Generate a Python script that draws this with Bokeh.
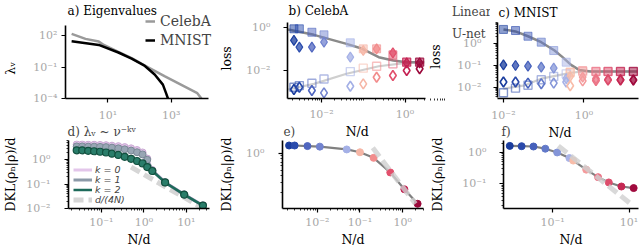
from bokeh.plotting import figure
from bokeh.models import (FixedTicker, Legend, LegendItem, Label, Range1d,
                          CustomJSTickFormatter)
from bokeh.layouts import row, column
from bokeh.embed import file_html
from bokeh.resources import INLINE

SERIF = "DejaVu Serif"
SANS = "DejaVu Sans"
TICK_GRAY = "#a8a8a8"
NB = "\u00a0"

# ---------------- data (log10 values) ----------------
# a) eigenvalue spectra
celeba_rank = [-0.15, 0.29, 0.71, 0.87, 1.33, 1.75, 2.17, 2.79, 3.31, 3.83, 3.96]
celeba_eig = [2.16, 1.68, 1.42, 1.10, 0.43, -0.15, -0.86, -1.87, -2.68, -3.49, -4.0]
mnist_rank = [-0.15, 0.71, 1.33, 1.75, 2.17, 2.48, 2.74, 2.84, 2.90]
mnist_eig = [1.45, 1.10, 0.38, -0.20, -0.90, -1.71, -2.68, -3.49, -4.0]

# b) / e) CelebA, against N/d
celeba_nd = [-2.66, -2.53, -2.23, -1.94, -1.31, -1.00, -0.68, -0.29, 0.04, 0.35]
celeba_lin_test = [-0.06, -0.06, -0.22, -0.34, -0.71, -0.99, -0.99, -1.27, -1.61, -1.61]
celeba_lin_train = [-2.78, -2.70, -2.59, -2.39, -2.05, -1.89, -1.80, -1.69, -1.61, -1.61]
celeba_unet_test = [-0.60, -0.91, -0.91, -0.68, -1.38, -1.07, -0.99, -1.18, -1.64, -1.64]
celeba_unet_train = [-2.88, -2.78, -2.93, -3.04, -2.73, -2.62, -2.31, -2.23, -2.00, -1.92]
celeba_theory_x = [-2.8, -2.18, -1.40, -1.02, -0.63, -0.28, 0.03, 0.46]
celeba_theory_test = [-0.09, -0.34, -0.76, -0.99, -1.38, -1.53, -1.61, -1.61]
celeba_theory_tx = [-2.8, -2.18, -1.40, -0.63, 0.03, 0.46]
celeba_theory_train = [-2.88, -2.62, -2.15, -1.80, -1.64, -1.61]
celeba_dkl = [0.14, 0.14, 0.13, 0.12, 0.07, 0.02, -0.08, -0.34, -0.64, -0.90]
celeba_ref_x = [-0.70, 0.30]
celeba_ref_y = [0.10, -0.90]

# c) / f) MNIST, against N/d
mnist_nd = [-2.0, -1.70, -1.39, -1.06, -0.75, -0.44, -0.34, -0.03, 0.30, 0.60, 0.91, 1.23]
mnist_lin_test = [0.64, 0.59, 0.33, 0.06, -0.32, -0.85, -1.30, -1.23, -1.27, -1.27, -1.27, -1.27]
mnist_lin_train = [-2.24, -2.03, -1.90, -1.65, -1.50, -1.38, -1.32, -1.27, -1.27, -1.27, -1.27, -1.27]
mnist_unet_test = [-0.97, -1.00, -1.03, -1.07, -1.12, -1.60, -1.50, -1.53, -1.60, -1.64, -1.64, -1.66]
mnist_unet_train = [-1.75, -1.75, -1.80, -1.83, -1.80, -1.75, -1.92, -1.70, -1.68, -1.66, -1.66, -1.66]
mnist_theory_x = [-2.0, -1.70, -1.39, -1.06, -0.73, -0.53, -0.32, -0.12, 0.17, 1.33]
mnist_theory_test = [0.64, 0.55, 0.33, 0.06, -0.32, -0.62, -0.97, -1.20, -1.27, -1.27]
mnist_theory_tx = [-2.0, -1.47, -1.06, -0.65, -0.32, 0.0, 1.33]
mnist_theory_train = [-2.05, -1.90, -1.60, -1.45, -1.33, -1.27, -1.27]
mnist_nd_f = [-2.12, -1.81, -1.50, -1.19, -0.88, -0.56, -0.46, -0.12, 0.19, 0.47, 0.80, 1.12]
mnist_dkl = [0.21, 0.20, 0.19, 0.12, 0.0, -0.18, -0.26, -0.55, -0.79, -0.96, -1.09, -1.14]
mnist_ref_x = [-0.85, 1.05]
mnist_ref_y = [0.21, -1.65]

# d) power-law spectra lambda_nu ~ nu^(-k nu)
pl_nd = [-1.58, -1.45, -1.31, -1.17, -1.03, -0.89, -0.75, -0.60, -0.45, -0.30, -0.16, -0.03, 0.08, 0.20, 0.50, 0.95, 1.39]
pl_k0 = [0.63, 0.63, 0.62, 0.62, 0.61, 0.60, 0.58, 0.56, 0.52, 0.47, 0.40, 0.30, 0.05, -0.42, -0.92, -1.42, -1.87]
pl_k1 = [0.55, 0.55, 0.54, 0.54, 0.53, 0.52, 0.50, 0.47, 0.43, 0.38, 0.31, 0.22, 0.00, -0.44, -0.93, -1.43, -1.88]
pl_k2 = [0.39, 0.39, 0.37, 0.35, 0.33, 0.30, 0.25, 0.20, 0.12, 0.04, -0.05, -0.15, -0.30, -0.46, -0.93, -1.43, -1.88]
pl_ref_x = [-0.30, 1.34]
pl_ref_y = [-0.30, -1.94]

celeba_colors = ["#1a3d9e", "#2a4cad", "#5066bf", "#7283cf", "#a4b0e6",
                 "#f6b6a6", "#f28c8c", "#e2506c", "#c42152", "#9c0a3c"]
mnist_colors = ["#1a3d9e", "#2b4aab", "#4560bb", "#6279c9", "#8495d8", "#a9b3e6",
                "#f8bca8", "#f49b9c", "#ec7486", "#dd4d6c", "#c52853", "#a00b3e"]


def L(a):
    return [10.0 ** v for v in a]


def minors(decades):
    return [m * 10.0 ** e for e in decades for m in range(2, 10)]


SUP_FMT = CustomJSTickFormatter(code="""
const e = Math.round(Math.log10(tick));
const sup = {"-": "\u207b", "0": "\u2070", "1": "\u00b9", "2": "\u00b2", "3": "\u00b3",
             "4": "\u2074", "5": "\u2075", "6": "\u2076", "7": "\u2077", "8": "\u2078", "9": "\u2079"};
return "10" + String(e).split("").map(c => sup[c]).join("");
""")


def make_fig(w, h, left, right, top, bottom, xr, yr, title, toff, tstand,
             xstand, ystand, ylab, ylab_stand, xlab=None, xlab_stand=0):
    p = figure(width=w, height=h, x_axis_type="log", y_axis_type="log",
               x_range=Range1d(10 ** xr[0], 10 ** xr[1]),
               y_range=Range1d(10 ** yr[0], 10 ** yr[1]),
               min_border_left=left, min_border_right=right,
               min_border_top=top, min_border_bottom=bottom,
               output_backend="svg", toolbar_location=None, title=title or "")
    p.outline_line_color = None
    p.border_fill_alpha = 0
    p.background_fill_alpha = 0
    p.xgrid.visible = False
    p.ygrid.visible = False
    for ax in (p.xaxis[0], p.yaxis[0]):
        ax.formatter = SUP_FMT
        ax.axis_line_color = "black"
        ax.axis_line_width = 1.6
        ax.major_tick_line_color = "black"
        ax.major_tick_line_width = 1.2
        ax.major_tick_in = 0
        ax.major_tick_out = 4
        ax.minor_tick_line_color = "black"
        ax.minor_tick_line_width = 0.8
        ax.minor_tick_in = 0
        ax.minor_tick_out = 2
        ax.major_label_text_color = TICK_GRAY
        ax.major_label_text_font = SERIF
        ax.major_label_text_font_size = "11px"
        ax.axis_label_text_font = SERIF
        ax.axis_label_text_font_style = "normal"
        ax.axis_label_text_color = "black"
    p.xaxis[0].major_label_standoff = xstand
    p.yaxis[0].major_label_standoff = ystand
    p.yaxis[0].axis_label = ylab
    p.yaxis[0].axis_label_standoff = ylab_stand
    p.yaxis[0].axis_label_text_font_size = "12.5px"
    if xlab:
        p.xaxis[0].axis_label = xlab
        p.xaxis[0].axis_label_standoff = xlab_stand
        p.xaxis[0].axis_label_text_font_size = "12.5px"
    p.title.text_font = SERIF
    p.title.text_font_style = "normal"
    p.title.align = "left"
    p.title.offset = toff
    p.title.standoff = tstand
    # an empty title must not take up room above the frame
    p.title.text_font_size = "12px" if title else "1px"
    return p


def add_legend(p, renderers, label, x, yc, gw, gh, font=SERIF, size="12px",
               style="normal", standoff=4):
    # Legend location = bottom-left corner of the box, relative to the frame
    leg = Legend(items=[LegendItem(label=label, renderers=renderers)],
                 location=(x, yc - gh / 2), padding=0, margin=0, spacing=0,
                 glyph_width=gw, glyph_height=gh, label_height=gh,
                 label_standoff=standoff, border_line_color=None,
                 background_fill_alpha=0, label_text_font=font,
                 label_text_font_size=size, label_text_font_style=style)
    p.add_layout(leg)


def add_text(p, text, x, y, size="12px"):
    p.add_layout(Label(x=x, y=y, x_units="screen", y_units="screen", text=text,
                       text_align="left", text_baseline="middle", text_font=SERIF,
                       text_font_size=size, text_color="black"))


# figures in one row share frame top/bottom, so every top-row frame spans y = 2..98
# (titles and legends are drawn inside the frames, axis lines are bounded), and
# every bottom-row frame spans y = 139..213.
TOP_H = 150
OVERLAP = 29
TB = TOP_H - 98

# ---------------- a) eigenvalues ----------------
pa = make_fig(216, TOP_H, 63, 0, 2, TB, (-0.344, 4.4375), (-4.0, 5.143),
              None, 0, 0, 6, 4, "λᵥ" + NB * 9, 12)
pa.xaxis.bounds = (10 ** -0.344, 10 ** 4.19)
pa.yaxis.bounds = (1e-4, 10 ** 2.95)
pa.xaxis.ticker = FixedTicker(ticks=[10, 1000], minor_ticks=[])
pa.yaxis.ticker = FixedTicker(ticks=[1e-4, 1e-1, 1e2], minor_ticks=[])
ra1 = pa.line(L(celeba_rank), L(celeba_eig), line_color="#9a9a9a", line_width=2.5)
ra2 = pa.line(L(mnist_rank), L(mnist_eig), line_color="black", line_width=2.5)
add_legend(pa, [ra1], "CelebA", 80, 77.3, 10, 18, size="14px", standoff=5)
add_legend(pa, [ra2], "MNIST", 80, 58, 10, 18, size="14px", standoff=5)
add_text(pa, "a) Eigenvalues", 2, 88)

# ---------------- b) CelebA losses ----------------
pb = make_fig(274, TOP_H, 65, 0, 2, TB, (-2.814, 2.047), (-3.30, 1.163),
              None, 0, 0, 5, 13, "loss" + NB * 4, 9,
              xlab="N/d" + NB * 16, xlab_stand=0)
pb.xaxis.bounds = (10 ** -2.814, 10 ** 0.488)
pb.yaxis.bounds = (10 ** -3.30, 10 ** 0.233)
pb.xaxis.ticker = FixedTicker(ticks=[1e-2, 1.0], minor_ticks=minors([-3, -2, -1, 0]) + [1e-3, 1e-1])
pb.yaxis.ticker = FixedTicker(ticks=[1e-2, 1.0], minor_ticks=[])
pb.line(L(celeba_theory_tx), L(celeba_theory_train), line_color="#cfcfcf", line_width=2.2)
pb.line(L(celeba_theory_x), L(celeba_theory_test), line_color="#8a8a8a", line_width=2.5)
pb.scatter(L(celeba_nd), L(celeba_lin_test), marker="square", size=8,
           fill_color=celeba_colors, fill_alpha=0.5, line_color=celeba_colors, line_alpha=0.6)
pb.scatter(L(celeba_nd), L(celeba_lin_train), marker="square", size=8,
           fill_color=None, line_color=celeba_colors, line_alpha=0.55, line_width=1.4)
pb.scatter(L(celeba_nd), L(celeba_unet_test), marker="diamond", size=10,
           fill_color=celeba_colors, fill_alpha=0.75, line_color=celeba_colors, line_width=1.2)
pb.scatter(L(celeba_nd), L(celeba_unet_train), marker="diamond", size=10,
           fill_color=None, line_color=celeba_colors, line_width=1.6)
# shared legend of b) and c), in b)'s frame, which runs on under panel c)'s left margin
rsq = pb.scatter(x=[], y=[], marker="square", color="#8a8a8a")
rdi = pb.scatter(x=[], y=[], marker="diamond", color="#8a8a8a")
add_legend(pb, [rsq], "Linear", 141, 86, 22, 22, standoff=2)
add_legend(pb, [rdi], "U-net", 141, 64, 22, 22, standoff=2)
add_text(pb, "b) CelebA", 1, 88)

# ---------------- c) MNIST losses ----------------
pc = make_fig(215, TOP_H, 71, 2, 2, TB, (-2.148, 1.358), (-2.5, 1.864),
              None, 0, 0, 6, 12, "loss" + NB * 3, 11, xlab="N/d" + NB * 4, xlab_stand=0)
pc.margin = (0, 0, 0, -65)
pc.yaxis.bounds = (10 ** -2.4545, 10 ** 0.9545)
pc.xaxis.ticker = FixedTicker(ticks=[1e-2, 1.0], minor_ticks=[])
pc.yaxis.ticker = FixedTicker(ticks=[1e-2, 1e-1, 1.0], minor_ticks=minors([-3, -2, -1, 0]))
pc.line(L(mnist_theory_tx), L(mnist_theory_train), line_color="#cfcfcf", line_width=2.2)
pc.line(L(mnist_theory_x), L(mnist_theory_test), line_color="#8a8a8a", line_width=2.5)
pc.scatter(L(mnist_nd), L(mnist_lin_test), marker="square", size=8,
           fill_color=mnist_colors, fill_alpha=0.5, line_color=mnist_colors, line_alpha=0.6)
pc.scatter(L(mnist_nd), L(mnist_lin_train), marker="square", size=8,
           fill_color=None, line_color=mnist_colors, line_alpha=0.55, line_width=1.4)
pc.scatter(L(mnist_nd), L(mnist_unet_test), marker="diamond", size=10,
           fill_color=mnist_colors, fill_alpha=0.75, line_color=mnist_colors, line_width=1.2)
pc.scatter(L(mnist_nd), L(mnist_unet_train), marker="diamond", size=10,
           fill_color=None, line_color=mnist_colors, line_width=1.6)
add_text(pc, "c) MNIST", 1, 86)

# ---------------- d) power-law spectra ----------------
pd_ = make_fig(216, 128, 63, 7, 18, 36, (-1.773, 1.545), (-2.0, 0.792),
               "d) λᵥ ~ ν⁻ᵏᵛ", -1, 3, 3, 14, "DKL(ρₙ|ρ)/d", 5, xlab="N/d", xlab_stand=0)
pd_.xaxis.ticker = FixedTicker(ticks=[0.1, 1.0, 10.0], minor_ticks=minors([-2, -1, 0, 1]))
pd_.yaxis.ticker = FixedTicker(ticks=[1e-2, 1e-1, 1.0], minor_ticks=minors([-2, -1, 0]))
rdash_d = pd_.line(L(pl_ref_x), L(pl_ref_y), line_color="#d6d6d6", line_width=5, line_dash="10 5")
r0 = pd_.line(L(pl_nd), L(pl_k0), line_color="#e3c6ea", line_width=3)
pd_.scatter(L(pl_nd), L(pl_k0), size=7, fill_color="#e3c6ea", line_color="#c9a8d2")
r1 = pd_.line(L(pl_nd), L(pl_k1), line_color="#8c9aa8", line_width=3)
pd_.scatter(L(pl_nd), L(pl_k1), size=7, fill_color="#98a6b4", line_color="#7a8896")
r2 = pd_.line(L(pl_nd), L(pl_k2), line_color="#1d6a5a", line_width=2.5)
pd_.scatter(L(pl_nd), L(pl_k2), size=7, fill_color="#2a7d6a", line_color="#12503f", line_width=1.2)
for rr, lab, yc in ((r0, "k = 0", 38), (r1, "k = 1", 28), (r2, "k = 2", 18), (rdash_d, "d/(4N)", 8)):
    add_legend(pd_, [rr], lab, 5, yc, 19, 9, font=SANS, size="9.5px", style="italic", standoff=3)

# ---------------- e) CelebA DKL ----------------
pe = make_fig(211, 128, 65, 4, 18, 36, (-2.814, 0.488), (-0.984, 0.2295),
              "e)", 1, 3, 3, 14, "DKL(ρₙ|ρ)/d", 9, xlab="N/d", xlab_stand=0)
pe.xaxis.ticker = FixedTicker(ticks=[1e-2, 1e-1, 1.0], minor_ticks=minors([-3, -2, -1, 0]))
pe.yaxis.ticker = FixedTicker(ticks=[1.0], minor_ticks=minors([-1, 0]))
pe.line(L(celeba_nd), L(celeba_dkl), line_color="#808080", line_width=2.2)
pe.scatter(L(celeba_nd), L(celeba_dkl), size=7, fill_color=celeba_colors, line_color=celeba_colors)
pe.line(L(celeba_ref_x), L(celeba_ref_y), line_color="#d0d0d0", line_alpha=0.8, line_width=5, line_dash="11 5")

# ---------------- f) MNIST DKL ----------------
pf = make_fig(213, 128, 68, 2, 18, 36, (-2.284, 1.247), (-1.794, 0.382),
              "f)", -2, 3, 3, 13, "DKL(ρₙ|ρ)/d", 14, xlab="N/d", xlab_stand=0)
pf.xaxis.ticker = FixedTicker(ticks=[0.1, 10.0], minor_ticks=[])
pf.yaxis.ticker = FixedTicker(ticks=[0.1, 1.0], minor_ticks=minors([-2, -1, 0]))
pf.line(L(mnist_nd_f), L(mnist_dkl), line_color="#808080", line_width=2.2)
pf.scatter(L(mnist_nd_f), L(mnist_dkl), size=7, fill_color=mnist_colors, line_color=mnist_colors)
pf.line(L(mnist_ref_x), L(mnist_ref_y), line_color="#d0d0d0", line_alpha=0.8, line_width=5, line_dash="11 5")

top = row(pa, pb, pc)
bottom = row(pd_, pe, pf)
bottom.margin = (-OVERLAP, 0, 0, 0)
layout = column(top, bottom)
open("out.html", "w").write(file_html(layout, INLINE))
